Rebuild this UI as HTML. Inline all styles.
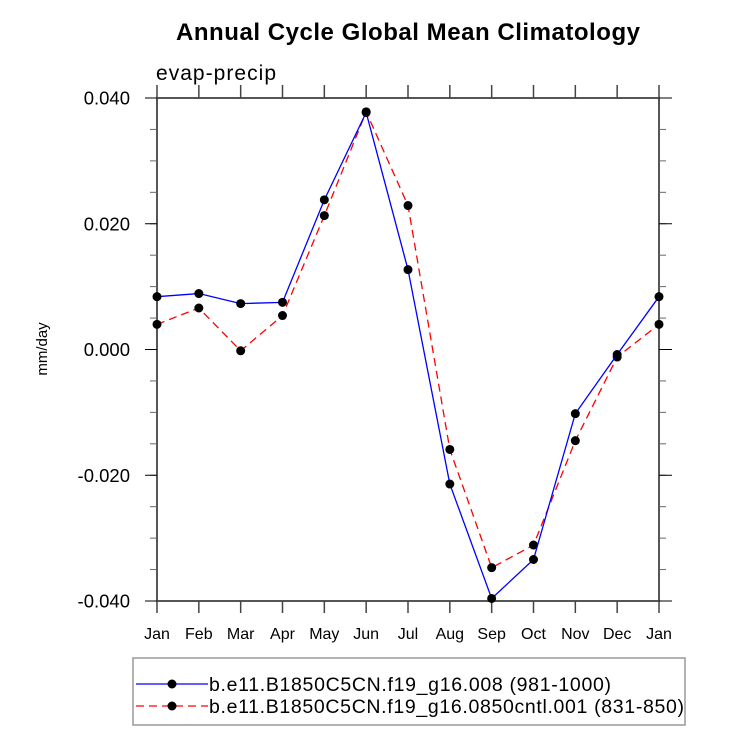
<!DOCTYPE html>
<html><head><meta charset="utf-8"><style>body{margin:0;background:#fff}svg{display:block;font-family:"Liberation Sans",Arial,sans-serif}</style></head>
<body>
<svg id="c" width="733" height="746">
<text x="408" y="40" text-anchor="middle" font-size="24" font-weight="bold" textLength="464">Annual Cycle Global Mean Climatology</text>
<text x="156" y="80" font-size="21" textLength="120">evap-precip</text>
<text transform="translate(47,349) rotate(-90)" text-anchor="middle" font-size="15">mm/day</text>
<rect x="157" y="98" width="502" height="503" fill="none" stroke="#444" stroke-width="1.8"/>
<g id="ax"></g><g id="series"></g>
<rect x="133" y="658" width="552" height="67" fill="none" stroke="#999" stroke-width="1.5"/>
<g>
<line x1="136" y1="684" x2="208" y2="684" stroke="#00f" stroke-width="1.3"/><circle cx="172" cy="684" r="4.5"/>
<text x="209" y="691" font-size="19.5" textLength="402">b.e11.B1850C5CN.f19_g16.008 (981-1000)</text></g>
<g>
<line x1="136" y1="706" x2="208" y2="706" stroke="#f00" stroke-width="1.3" stroke-dasharray="8,5"/><circle cx="172" cy="706" r="4.5"/>
<text x="209" y="713" font-size="19.5" textLength="475">b.e11.B1850C5CN.f19_g16.0850cntl.001 (831-850)</text></g>
</svg>
<script>
const months=["Jan","Feb","Mar","Apr","May","Jun","Jul","Aug","Sep","Oct","Nov","Dec","Jan"];
const caseVals=[0.0084,0.0089,0.0073,0.0075,0.0238,0.0377,0.0127,-0.0214,-0.0396,-0.0334,-0.0102,-0.0008,0.0084];
const cntlVals=[0.0040,0.0066,-0.0002,0.0054,0.0213,0.0378,0.0229,-0.0159,-0.0347,-0.0311,-0.0145,-0.0012,0.0040];
const yTicks=[0.04,0.02,0,-0.02,-0.04];
const yTickLabels=["0.040","0.020","0.000","-0.020","-0.040"];
const NS="http://www.w3.org/2000/svg";
const X=i=>157+i*(502/12), Y=v=>98+(0.04-v)*(503/0.08);
function mk(p,t,a){const e=document.createElementNS(NS,t);for(const k in a)e.setAttribute(k,a[k]);p.appendChild(e);return e;}
const ax=document.getElementById('ax');
months.forEach((m,i)=>{
 const g=mk(ax,'g',{});
 
 
 mk(g,'line',{x1:X(i),x2:X(i),y1:601,y2:613,stroke:'#444','stroke-width':1.5});
 mk(g,'line',{x1:X(i),x2:X(i),y1:98,y2:85,stroke:'#444','stroke-width':1.5});
 const t=mk(g,'text',{x:X(i),y:639,'text-anchor':'middle','font-size':16});t.textContent=m;
});
for(let v=-0.04;v<=0.0401;v+=0.005){const y=Y(v);
 mk(ax,'line',{x1:150,x2:157,y1:y,y2:y,stroke:'#666'});mk(ax,'line',{x1:659,x2:666,y1:y,y2:y,stroke:'#666'});}
yTicks.forEach((v,i)=>{
 const g=mk(ax,'g',{});
 
 
 mk(g,'line',{x1:145,x2:157,y1:Y(v),y2:Y(v),stroke:'#000'});
 mk(g,'line',{x1:659,x2:672,y1:Y(v),y2:Y(v),stroke:'#000'});
 const t=mk(g,'text',{x:130,y:Y(v)+6.5,'text-anchor':'end','font-size':18.5});t.textContent=yTickLabels[i];
});
const sg=document.getElementById('series');
function draw(vals,color,dash,name){
 const g=mk(sg,'g',{});
 
 
 const a={points:vals.map((v,i)=>X(i)+','+Y(v)).join(' '),fill:'none',stroke:color,'stroke-width':1.3};
 if(dash)a['stroke-dasharray']=dash;
 mk(g,'polyline',a);
 vals.forEach((v,i)=>{const c=mk(g,'circle',{cx:X(i),cy:Y(v),r:4.5});
  
  });
}
draw(cntlVals,'#f00','8,5','series-cntl');
draw(caseVals,'#00f',null,'series-008');
</script>
</body></html>
